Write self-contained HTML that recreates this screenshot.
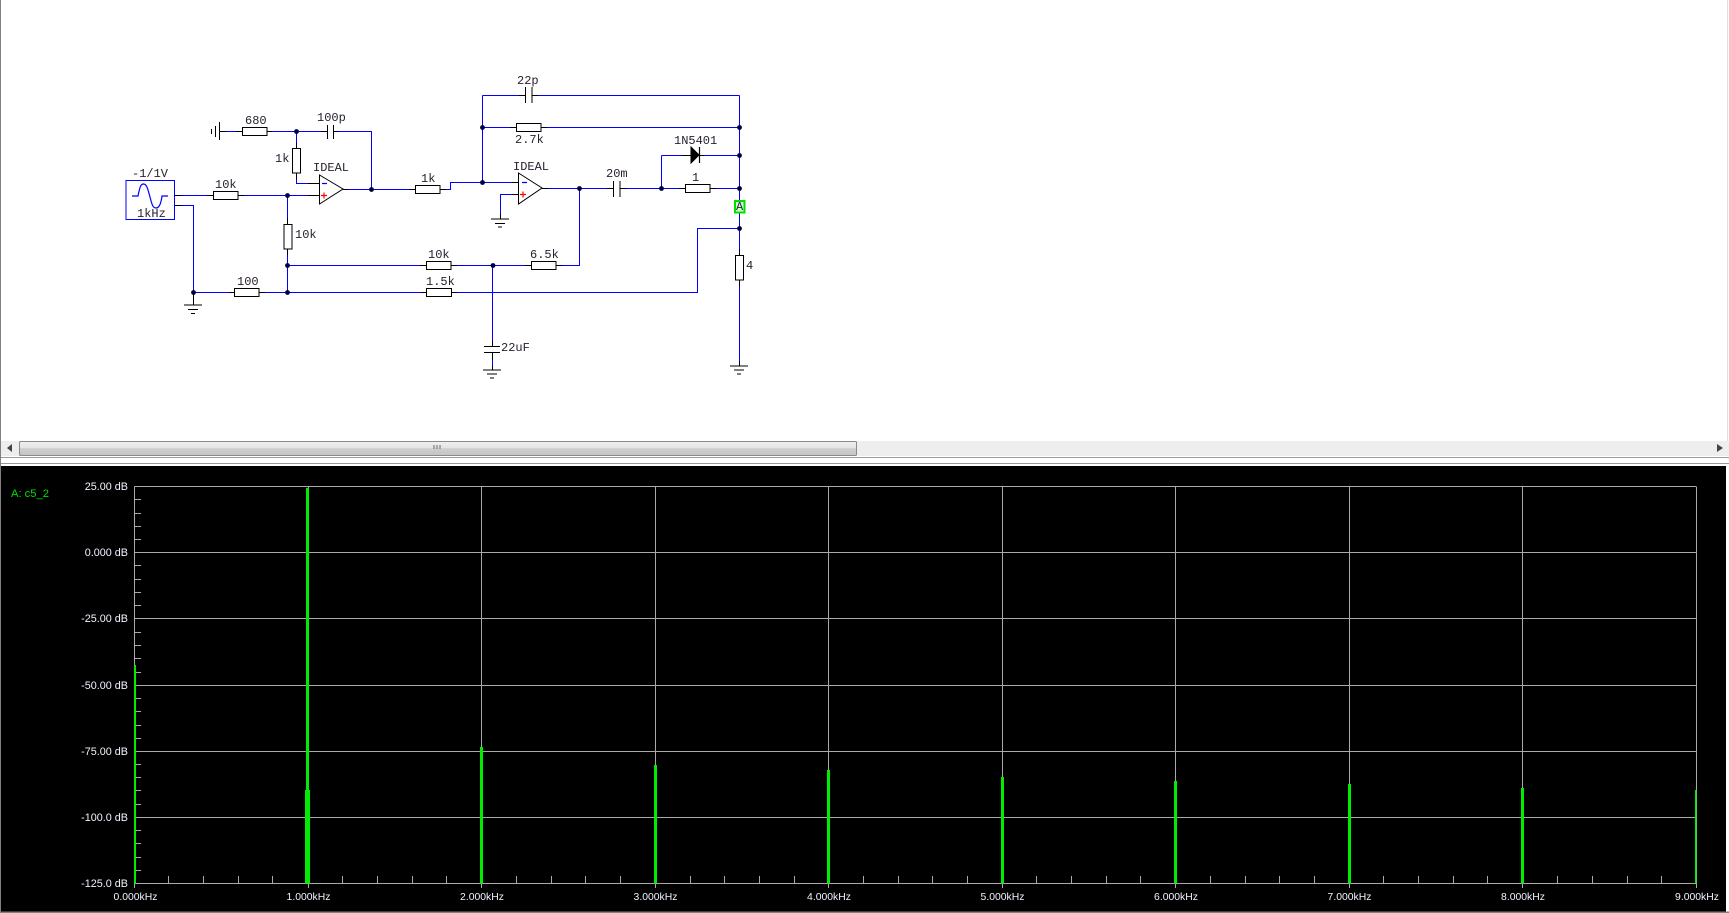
<!DOCTYPE html>
<html><head><meta charset="utf-8"><style>
html,body{margin:0;padding:0;background:#fff}
svg{display:block}
.c text{font-family:"Liberation Mono",monospace;font-size:12px;fill:#2a2030}
.p text{font-family:"Liberation Sans",sans-serif;font-size:10.4px;fill:#f0f4ff}
.p .y text{font-size:10.800px}
</style></head><body>
<svg width="1729" height="913" viewBox="0 0 1729 913" xmlns="http://www.w3.org/2000/svg">
<defs><linearGradient id="th" x1="0" y1="0" x2="0" y2="1"><stop offset="0" stop-color="#f0f0f0"/><stop offset=".45" stop-color="#e4e4e4"/><stop offset=".5" stop-color="#cfcfcf"/><stop offset="1" stop-color="#c4c4c4"/></linearGradient></defs>
<rect width="1729" height="913" fill="#fff"/>
<rect x="0" y="0" width="1" height="913" fill="#808080"/>
<rect x="1727" y="0" width="1" height="441" fill="#e0e0e0"/>
<rect x="1" y="441" width="1728" height="15" fill="#eeeeee"/>
<rect x="19.5" y="441.5" width="837" height="14" rx="1" fill="url(#th)" stroke="#8a8a8a"/>
<path d="M7 448 L12 444 V452 Z" fill="#444"/>
<path d="M1723 448 L1717 444 V452 Z" fill="#444"/>
<path d="M434 445V449M437 445V449M440 445V449" stroke="#666" fill="none"/>
<rect x="1" y="457" width="1728" height="1" fill="#999"/>
<rect x="1" y="463" width="1728" height="1" fill="#999"/>
<!-- circuit wires -->
<g fill="none" stroke="#0000ff" stroke-width="1.1" shape-rendering="crispEdges">
<path d="M182 195.500H207M244 195.500H308M287.500 195.500V218M287.500 255V292.500M182 205.500H193.500V292.500H229M265 292.500H421M287.500 265.500H420"/>
<path d="M226 131.500H236M272 131.500H327M333 131.500H371.500V189.500M296.500 131.500V143M296.500 179V183.500H308"/>
<path d="M348 189.500H409M446 189.500H450.500V182.500H512M482.500 95.500V182.500M482.500 127.500H510M547 127.500H739M482.500 95.500H519M538 95.500H739.500"/>
<path d="M548 188.500H607M626 188.500H679M716 188.500H739M661.500 155.500V188.500M661.500 155.500H682M704 155.500H739M739.500 95.500V200M739.500 213V249M739.500 286V361"/>
<path d="M579.500 188.500V265.500H562M525 265.500H457M492.500 265.500V341M492.500 360V366M457 292.500H697.500V228.500H739.500"/>
<path d="M512 194.500H500.500V214"/>
</g>
<!-- black leads -->
<g fill="none" stroke="#000" stroke-width="1.1" shape-rendering="crispEdges">
<path d="M174 195.500H182M174 205.500H182M207 195.500H213M238 195.500H244M287.500 218V224M287.500 249V255"/>
<path d="M229 292.500H234M259 292.500H265M421 292.500H427M452 292.500H457M420 265.500H426M451 265.500H457M525 265.500H531M556 265.500H562"/>
<path d="M236 131.500H242M267 131.500H272M321 131.500H327M333 131.500H338M219 131.500H226"/>
<path d="M296.500 143V148M296.500 173V179M308 183.500H319M308 195.500H319M343 189.500H348M409 189.500H415M440 189.500H446"/>
<path d="M510 127.500H516M541 127.500H547M519 95.500H525M532 95.500H538M512 182.500H518M512 194.500H518M542 188.500H548M607 188.500H613M620 188.500H626M679 188.500H685M710 188.500H716"/>
<path d="M682 155.500H691M699 155.500H704M739.500 249V255M739.500 280V286M739.500 361V366M492.500 341V346M492.500 352V360M492.500 366V370M500.500 214V219"/>
<path d="M193.500 292V305"/>
</g>
<!-- resistors -->
<g fill="#fff" stroke="#000" stroke-width="1.1" shape-rendering="crispEdges">
<rect x="213.500" y="191.500" width="24.500" height="8"/>
<rect x="284" y="224.500" width="8" height="24.500"/>
<rect x="234.500" y="288.500" width="24.500" height="8"/>
<rect x="426.500" y="288.500" width="25" height="8"/>
<rect x="426.500" y="261.500" width="24.500" height="8"/>
<rect x="242.500" y="127.500" width="24.500" height="8"/>
<rect x="292.500" y="148.500" width="8" height="24.500"/>
<rect x="415.500" y="185.500" width="24.500" height="8"/>
<rect x="516.500" y="123.500" width="24.500" height="8"/>
<rect x="531.500" y="261.500" width="24.500" height="8"/>
<rect x="685.500" y="184.500" width="24.500" height="8"/>
<rect x="735.500" y="255.500" width="8" height="24.500"/>
</g>
<!-- caps, grounds -->
<g fill="none" stroke="#000" stroke-width="1.1" shape-rendering="crispEdges">
<path d="M327.500 125V139M333.500 125V139M525.500 87V103M532 87V103M613.500 181V197M620 181V197M484 346.500H500M484 352.500H500"/>
<path d="M184 305H202M188 309.500H198M191 313.500H195"/>
<path d="M491 219H509M495 223.500H505M498 227H502"/>
<path d="M483 370H501M487 374H497M490 378H494"/>
<path d="M730 366H748M734 370H744M737 374H741"/>
<path d="M219.500 122V140M215.500 126V137M211.500 129V134"/>
</g>
<!-- opamps -->
<g fill="#fff" stroke="#000" stroke-width="1">
<path d="M319.500 175L343 189L319.500 204Z"/>
<path d="M518.500 173L542 188L518.500 204Z"/>
</g>
<path d="M322 183.500H327M522 182.500H527" stroke="#0000ff" stroke-width="1.2"/>
<path d="M321 195.500H327M324 192.500V198.500M520 194.500H526M523 191.500V197.500" stroke="#ff0000" stroke-width="1.2"/>
<!-- diode -->
<path d="M691 147L699 155L691 163Z" fill="#000" stroke="#000"/>
<path d="M699.500 147V163" stroke="#000" stroke-width="1.2"/>
<!-- source -->
<rect x="126" y="180.500" width="48.500" height="39" fill="#fff" stroke="#0000ff" stroke-width="1.1" shape-rendering="crispEdges"/>
<path d="M132 196H138C140 186 141 184 143.500 184C147 184 148 190 150 197C152 205 153 208 156 208C159 208 161 204 162 196H168" fill="none" stroke="#0000ff" stroke-width="1.2"/>
<!-- nodes -->
<g fill="#000033">
<circle cx="287.500" cy="195.500" r="2.400"/><circle cx="287.500" cy="265.500" r="2.400"/><circle cx="287.500" cy="292.500" r="2.400"/><circle cx="193.500" cy="292.500" r="2.400"/>
<circle cx="296.500" cy="131.500" r="2.400"/><circle cx="371.500" cy="189.500" r="2.400"/><circle cx="482.500" cy="182.500" r="2.400"/><circle cx="482.500" cy="127.500" r="2.400"/>
<circle cx="739.500" cy="127.500" r="2.400"/><circle cx="739.500" cy="155.500" r="2.400"/><circle cx="739.500" cy="188.500" r="2.400"/><circle cx="739.500" cy="228.500" r="2.400"/>
<circle cx="661.500" cy="188.500" r="2.400"/><circle cx="579.500" cy="188.500" r="2.400"/><circle cx="493" cy="265.500" r="2.400"/>
</g>
<!-- A tag -->
<rect x="735" y="201" width="9.500" height="11.500" fill="#cfffcf" stroke="#00e000" stroke-width="2"/>
<g class="c">
<text x="132" y="177">-1/1V</text>
<text x="137" y="217">1kHz</text>
<text x="215" y="188">10k</text>
<text x="295" y="238">10k</text>
<text x="428" y="258">10k</text>
<text x="426" y="285">1.5k</text>
<text x="237" y="285">100</text>
<text x="245" y="124">680</text>
<text x="317" y="121">100p</text>
<text x="275" y="162">1k</text>
<text x="313" y="171">IDEAL</text>
<text x="421" y="182">1k</text>
<text x="517" y="84">22p</text>
<text x="515" y="143">2.7k</text>
<text x="674" y="144">1N5401</text>
<text x="513" y="170">IDEAL</text>
<text x="606" y="177">20m</text>
<text x="692" y="181">1</text>
<text x="736" y="210">A</text>
<text x="530" y="258">6.5k</text>
<text x="501" y="351">22uF</text>
<text x="746" y="269">4</text>
</g>
<!-- plot -->
<rect x="1" y="466" width="1725" height="445.500" fill="#000"/>
<rect x="0" y="911.500" width="1729" height="1.500" fill="#808080"/>
<g fill="none" stroke="#aaaaaa" stroke-width="1">
<path d="M134.500 486.500H1696M134.500 552.500H1696M134.500 618.500H1696M134.500 685.500H1696M134.500 751.500H1696M134.500 817.500H1696M134.500 883.500H1696"/>
<path d="M134.500 486.500V888M308.500 486.500V888M481.500 486.500V888M655.500 486.500V888M828.500 486.500V888M1002.500 486.500V888M1175.500 486.500V888M1349.500 486.500V888M1522.500 486.500V888M1696.500 486.500V888"/>
<path d="M135 499.500h6M135 513.500h6M135 526.500h6M135 539.500h6M135 565.500h6M135 579.500h6M135 592.500h6M135 605.500h6M135 632.500h6M135 645.500h6M135 658.500h6M135 672.500h6M135 698.500h6M135 711.500h6M135 725.500h6M135 738.500h6M135 764.500h6M135 777.500h6M135 790.500h6M135 804.500h6M135 830.500h6M135 843.500h6M135 857.500h6M135 870.500h6"/>
<path d="M168.500 876v7M203.500 876v7M238.500 876v7M272.500 876v7M342.500 876v7M377.500 876v7M412.500 876v7M446.500 876v7M516.500 876v7M551.500 876v7M585.500 876v7M620.500 876v7M690.500 876v7M724.500 876v7M759.500 876v7M794.500 876v7M863.500 876v7M898.500 876v7M932.500 876v7M967.500 876v7M1036.500 876v7M1071.500 876v7M1106.500 876v7M1140.500 876v7M1210.500 876v7M1245.500 876v7M1279.500 876v7M1314.500 876v7M1383.500 876v7M1418.500 876v7M1453.500 876v7M1487.500 876v7M1557.500 876v7M1592.500 876v7M1627.500 876v7M1661.500 876v7"/>
</g>
<g fill="#00ec00">
<rect x="134" y="665" width="2" height="218.500"/>
<rect x="306" y="488" width="3" height="395.500"/>
<rect x="305" y="790" width="5" height="93.500"/>
<rect x="480" y="747" width="3" height="136.500"/>
<rect x="654" y="765" width="3" height="118.500"/>
<rect x="827" y="770" width="3" height="113.500"/>
<rect x="1001" y="777" width="3" height="106.500"/>
<rect x="1174" y="781" width="3" height="102.500"/>
<rect x="1348" y="784" width="3" height="99.500"/>
<rect x="1521" y="788" width="3" height="95.500"/>
<rect x="1695" y="790" width="1.500" height="93.500"/>
</g>
<g class="p">
<text x="11" y="497" style="fill:#00e000;font-size:11.200px">A: c5_2</text>
<g text-anchor="end" class="y">
<text x="128" y="490">25.00 dB</text>
<text x="128" y="556">0.000 dB</text>
<text x="128" y="622">-25.00 dB</text>
<text x="128" y="689">-50.00 dB</text>
<text x="128" y="755">-75.00 dB</text>
<text x="128" y="821">-100.0 dB</text>
<text x="128" y="887">-125.0 dB</text>
</g>
<g text-anchor="middle">
<text x="135.500" y="900">0.000kHz</text>
<text x="308.500" y="900">1.000kHz</text>
<text x="482" y="900">2.000kHz</text>
<text x="655.500" y="900">3.000kHz</text>
<text x="829" y="900">4.000kHz</text>
<text x="1002.500" y="900">5.000kHz</text>
<text x="1176" y="900">6.000kHz</text>
<text x="1349.500" y="900">7.000kHz</text>
<text x="1523" y="900">8.000kHz</text>
<text x="1697" y="900">9.000kHz</text>
</g>
</g>
</svg>
</body></html>
